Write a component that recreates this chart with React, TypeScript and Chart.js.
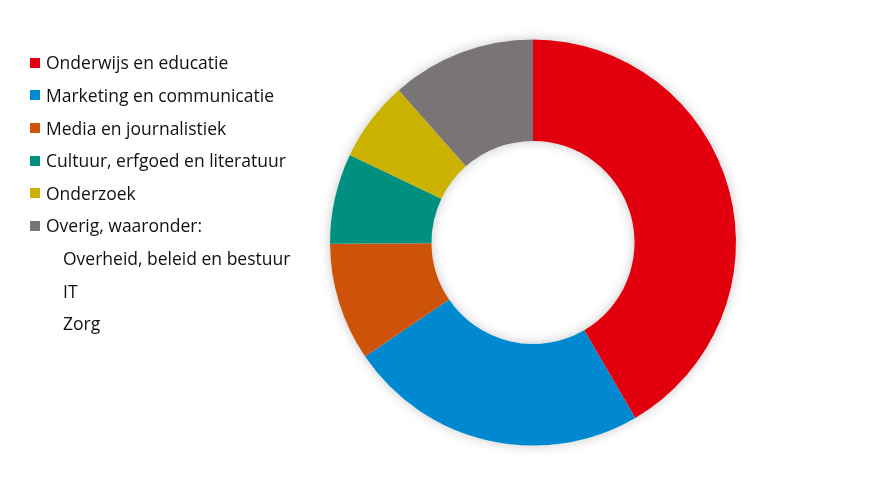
import React, { useEffect, useRef } from "react";
import { Chart, registerables } from "chart.js";

Chart.register(...registerables);

const categories = [
  "Onderwijs en educatie",
  "Marketing en communicatie",
  "Media en journalistiek",
  "Cultuur, erfgoed en literatuur",
  "Onderzoek",
  "Overig, waaronder:",
];
const values = [41.6, 23.9, 9.4, 7.2, 6.4, 11.5];
const colors = ["#E2000F", "#0089D1", "#CD520A", "#00907F", "#CBB100", "#797577"];
const subItems = ["Overheid, beleid en bestuur", "IT", "Zorg"];

const ringShadow = {
  id: "ringShadow",
  beforeDatasetsDraw(chart: any) {
    const meta = chart.getDatasetMeta(0);
    const arc = meta.data[0];
    if (!arc) return;
    const { x, y, outerRadius, innerRadius } = arc.getProps(["x", "y", "outerRadius", "innerRadius"], true);
    const ctx = chart.ctx;
    ctx.save();
    ctx.shadowColor = "rgba(0,0,0,0.22)";
    ctx.shadowBlur = 12;
    ctx.fillStyle = "#ffffff";
    ctx.beginPath();
    ctx.arc(x, y, outerRadius, 0, Math.PI * 2);
    ctx.arc(x, y, innerRadius, Math.PI * 2, 0, true);
    ctx.closePath();
    ctx.fill("evenodd");
    ctx.restore();
  },
};

export default function App() {
  const ref = useRef<HTMLCanvasElement>(null);
  useEffect(() => {
    if (!ref.current) return;
    const chart = new Chart(ref.current, {
      type: "doughnut",
      data: {
        labels: categories,
        datasets: [
          {
            data: values,
            backgroundColor: colors,
            borderWidth: 0,
            hoverOffset: 0,
          },
        ],
      },
      options: {
        animation: false,
        responsive: false,
        cutout: "50%",
        layout: { padding: { left: 322, right: 126, top: 31.5, bottom: 33.5 } },
        plugins: { legend: { display: false }, tooltip: { enabled: false } },
      },
      plugins: [ringShadow],
    });
    return () => chart.destroy();
  }, []);

  // page-level cap centre of row i is ~62.8 + 32.6*i; subtract body margin 8 and cap offset 11.5
  const rowTop = (i: number) => 62.8 + i * 32.6 - 8 - 11.5;
  const textStyle: React.CSSProperties = {
    fontFamily: "'Open Sans', sans-serif",
    fontSize: 17.5,
    lineHeight: "22px",
    color: "#111111",
    whiteSpace: "nowrap",
  };

  return (
    <div style={{ position: "relative", width: 854, height: 471 }}>
      <canvas ref={ref} width={854} height={471} style={{ position: "absolute", left: 0, top: 0 }} />
      {categories.map((c, i) => (
        <div
          key={c}
          style={{
            position: "absolute",
            left: 22,
            top: rowTop(i),
            display: "flex",
            alignItems: "center",
            ...textStyle,
          }}
        >
          <span
            style={{
              display: "inline-block",
              width: 10,
              height: 10,
              background: colors[i],
              marginRight: 6,
              marginTop: 1,
            }}
          />
          <span>{c}</span>
        </div>
      ))}
      {subItems.map((s, j) => (
        <div
          key={s}
          style={{ position: "absolute", left: 55, top: rowTop(categories.length + j), ...textStyle }}
        >
          {s}
        </div>
      ))}
    </div>
  );
}
